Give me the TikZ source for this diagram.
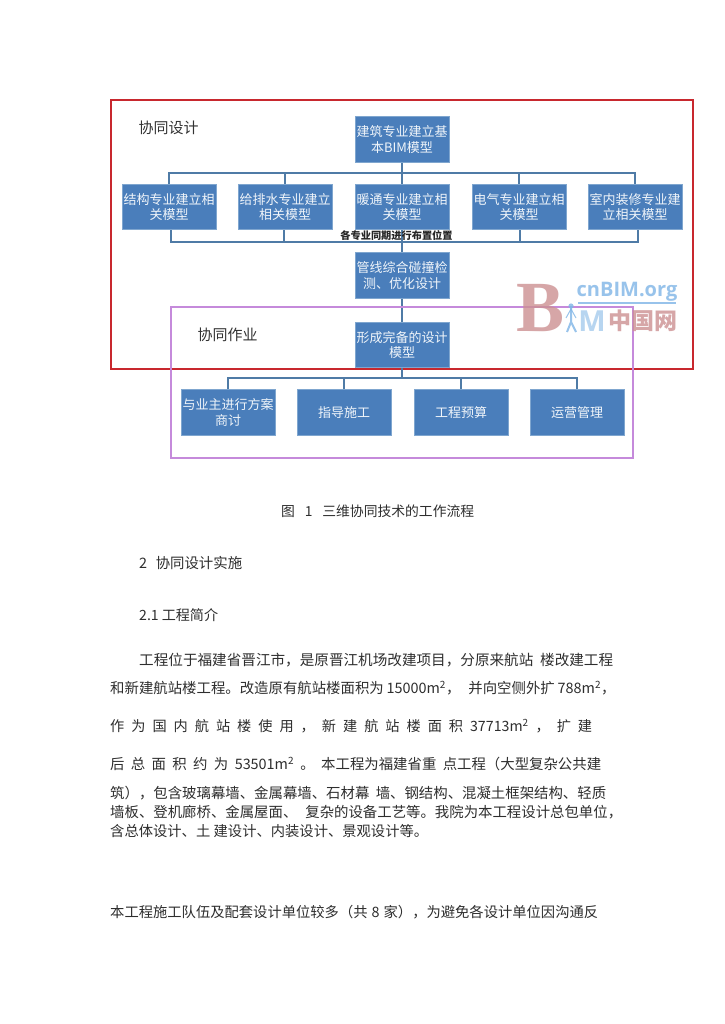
\documentclass[tikz,border=0pt]{standalone}
\usepackage{fontspec}
\setmainfont{Noto Sans CJK SC}
\newfontfamily\wmserif{Liberation Serif}
\newfontfamily\wmsans{Open Sans}
\definecolor{boxblue}{HTML}{4A7EBB}
\definecolor{boxedge}{HTML}{7FA6CF}
\definecolor{linkblue}{HTML}{4F7BA6}
\definecolor{framered}{HTML}{C8282E}
\definecolor{framepurple}{HTML}{C58ADB}
\definecolor{bodyink}{HTML}{2E2E2E}
\definecolor{wmred}{HTML}{CC9092}
\definecolor{wmblue}{HTML}{7FB5E6}
\tikzset{
  x=1pt,y=-1pt,
  flowbox/.style={draw=boxedge,line width=.6pt,fill=boxblue,text=white!92!boxblue,minimum width=94pt,minimum height=45.5pt,inner sep=0pt,align=center,font=\fontsize{13}{15.5}\selectfont},
  link/.style={draw=linkblue,line width=1.3pt},
  title/.style={inner sep=0pt,text=black!80,font=\fontsize{15}{17}\selectfont},
  bodytext/.style={anchor=west,inner sep=0pt,text=bodyink},
  wm/.style={inner sep=0pt,opacity=.8},
}
\newcommand{\fitline}[3]{\fontsize{#1}{16}\selectfont\spaceskip=.3em plus 1pt minus .1em\relax\hbox to #2pt{\vrule width 0pt height 11pt depth 1pt\relax #3}}
\newcommand{\bline}[6]{\node[bodytext] (#1) at (#2,#3) {\fitline{#4}{#5}{#6}};}
\begin{document}
\begin{tikzpicture}
\useasboundingbox (0,0) rectangle (724,1024);
\fill[white] (0,0) rectangle (724,1024);
% frames
\node[draw=framered,line width=2pt,minimum width=582pt,minimum height=269pt,inner sep=0pt] (redframe) at (402,234.5) {};
% boxes
\node[flowbox] (top) at (402,139.5) {建筑专业建立基\\本BIM模型};
\node[flowbox] (r1) at (169,207) {结构专业建立相\\关模型};
\node[flowbox] (r2) at (285,207) {给排水专业建立\\相关模型};
\node[flowbox] (r3) at (402,207) {暖通专业建立相\\关模型};
\node[flowbox] (r4) at (519,207) {电气专业建立相\\关模型};
\node[flowbox] (r5) at (635,207) {室内装修专业建\\立相关模型};
\node[flowbox] (clash) at (402,275.5) {管线综合碰撞检\\测、优化设计};
\node[flowbox] (final) at (402,345) {形成完备的设计\\模型};
\node[flowbox] (b1) at (228,412.5) {与业主进行方案\\商讨};
\node[flowbox] (b2) at (344,412.5) {指导施工};
\node[flowbox] (b3) at (461,412.5) {工程预算};
\node[flowbox] (b4) at (577,412.5) {运营管理};
% bus coordinates
\coordinate (topbus) at (402,173);
\coordinate (midbus) at (402,242);
\coordinate (lowbus) at (402,378);
\draw[link] (top) -- (r3);
\draw[link] (r1.north) |- (topbus);
\draw[link] (r2.north) |- (topbus);
\draw[link] (r4.north) |- (topbus);
\draw[link] (r5.north) |- (topbus);
\draw[link] ([xshift=2pt]r1.south) |- (midbus);
\draw[link] ([xshift=-1pt]r2.south) |- (midbus);
\draw[link] (r3.south) -- (clash.north);
\draw[link] ([xshift=1pt]r4.south) |- (midbus);
\draw[link] ([xshift=3pt]r5.south) |- (midbus);
\draw[link] (clash) -- (final);
\draw[link] (final.south) -- (lowbus);
\draw[link] (b1.north) |- (lowbus);
\draw[link] (b2.north) |- (lowbus);
\draw[link] (b3.north) |- (lowbus);
\draw[link] (b4.north) |- (lowbus);
\node[inner sep=0pt,font=\fontsize{10.2}{12}\bfseries\selectfont,text=black!85] (span) at (396.5,236) {各专业同期进行布置位置};
\node[draw=framepurple,line width=1.6pt,minimum width=462pt,minimum height=151pt,inner sep=0pt] (purpleframe) at (402,382.5) {};
\node[title] (t1) at (168.5,128) {协同设计};
\node[title] (t2) at (227.5,335) {协同作业};
% watermark
\node[wm,text=wmred,font=\wmserif\bfseries\fontsize{72}{72}\selectfont] (wmb) at (541,308) {B};
\node[wm,text=wmblue,font=\wmsans\bfseries\fontsize{20}{22}\selectfont] (wmorg) at (627,292) {cnBIM.org};
\coordinate (wmrulea) at (578,303);
\coordinate (wmruleb) at (676,303);
\draw[wmblue,line width=1.2pt,opacity=.8] (wmrulea) -- (wmruleb);
\coordinate (wmhead) at (571,306);
\coordinate (wmhip) at (571,322);
\coordinate (wmfeeta) at (567,332);
\coordinate (wmfeetb) at (576,332);
\fill[wmblue,opacity=.8] (wmhead) circle (2.6pt);
\draw[wmblue,line width=2pt,opacity=.8] (wmhead) -- (wmhip) -- (wmfeeta) (wmhip) -- (wmfeetb);
\draw[wmblue,line width=1pt,opacity=.8] (wmhead) ++(0,3) -- ++(-5,9) (wmhead) ++(0,3) -- ++(5,9);
\node[wm,text=wmblue!70,font=\wmsans\bfseries\fontsize{29}{30}\selectfont] (wmm) at (592,321) {M};
\node[wm,text=wmred,font=\bfseries\fontsize{23}{25}\selectfont] (wmcn) at (642.5,321) {中国网};
% text
\bline{caption}{281}{511}{13.8}{193}{图 1 三维协同技术的工作流程}
\bline{h2}{139}{563}{14.4}{103}{2 \ 协同设计实施}
\bline{h21}{139}{615}{14.1}{79}{2.1 工程简介}
\bline{l1}{139}{660}{14.6}{474}{工程位于福建省晋江市，是原晋江机场改建项目，分原来航站 楼改建工程}
\bline{l2}{110}{688}{14.4}{497}{和新建航站楼工程。改造原有航站楼面积为 15000m\textsuperscript{2}，\hspace{8pt}并向空侧外扩 788m\textsuperscript{2}，}
\bline{l3}{110}{726}{14.2}{482}{作 为 国 内 航 站 楼 使 用 ， 新 建 航 站 楼 面 积 37713m\textsuperscript{2} ， 扩 建}
\bline{l4}{110}{764}{14.4}{491}{后 总 面 积 约 为 53501m\textsuperscript{2} 。 本工程为福建省重 点工程（大型复杂公共建}
\bline{l5}{110}{793}{14.4}{496}{筑），包含玻璃幕墙、金属幕墙、石材幕 墙、钢结构、混凝土框架结构、轻质}
\bline{l6}{110}{812}{14.4}{512}{墙板、登机廊桥、金属屋面、 复杂的设备工艺等。我院为本工程设计总包单位，}
\bline{l7}{110}{831}{14.3}{318}{含总体设计、土 建设计、内装设计、景观设计等。}
\bline{l8}{110}{912}{14.3}{488}{本工程施工队伍及配套设计单位较多（共 8 家），为避免各设计单位因沟通反}
\end{tikzpicture}
\end{document}
